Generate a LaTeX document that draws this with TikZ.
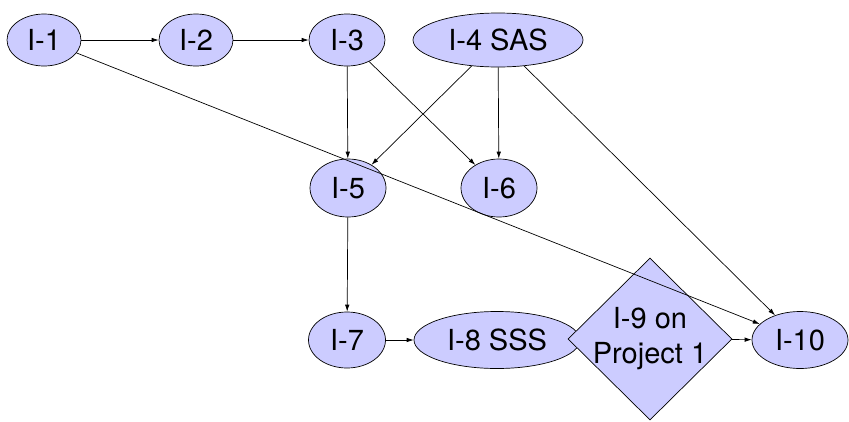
\documentclass[tikz,border=0pt]{standalone}
\usepackage{fontspec}
\setmainfont{TeX Gyre Heros}
\usetikzlibrary{shapes.geometric,arrows.meta}
\definecolor{nodefill}{RGB}{204,204,255}

\begin{document}
\begin{tikzpicture}[x=1pt,y=-1pt,line width=0.7pt,>={Latex[length=7pt,width=4.5pt]},
  main/.style = {draw, ellipse, fill=nodefill, inner sep=0pt, font=\fontsize{29}{35}\selectfont},
  gate/.style = {draw, diamond, fill=nodefill, inner sep=-9pt, align=center, font=\fontsize{29}{35}\selectfont}]
  \useasboundingbox (0,0) rectangle (849,421);
  \node[main, minimum width=74, minimum height=52] at (44,40) (1) {I-1};
  \node[main, minimum width=74, minimum height=52] at (196,40) (2) {I-2};
  \node[main, minimum width=76, minimum height=52] at (347,40) (3) {I-3};
  \node[main, minimum width=170, minimum height=54] at (498,40) (4) {I-4 SAS};
  \node[main, minimum width=76, minimum height=58] at (348,188) (5) {I-5};
  \node[main, minimum width=76, minimum height=58] at (499,188) (6) {I-6};
  \node[main, minimum width=77, minimum height=56] at (347,340) (7) {I-7};
  \node[main, minimum width=166, minimum height=57] at (497,340) (8) {I-8 SSS};
  \node[gate, minimum width=164, minimum height=162] at (650,339) (9) {I-9 on\\Project 1};
  \node[main, minimum width=96, minimum height=57] at (800,340) (10) {I-10};
  \draw[->] (1) -- (2);
  \draw[->] (2) -- (3);
  \draw[->] (3) -- (5);
  \draw[->] (3) -- (6);
  \draw[->] (4) -- (5);
  \draw[->] (4) -- (6);
  \draw[->] (4) -- (10);
  \draw[->] (1) -- (10);
  \draw[->] (5) -- (7);
  \draw[->] (7) -- (8);
  \draw[->] (9) -- (10);
\end{tikzpicture}
\end{document}
